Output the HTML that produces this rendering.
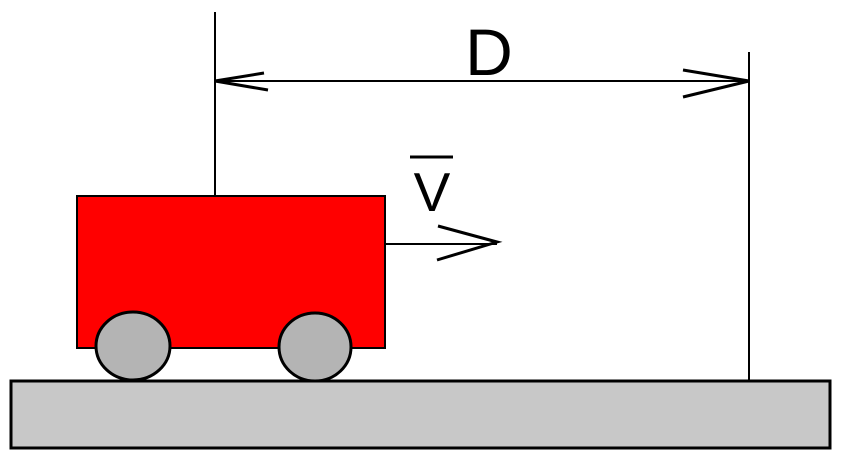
<!DOCTYPE html>
<html><head><meta charset="utf-8"><style>
html,body{margin:0;padding:0;background:#fff;width:842px;height:456px;overflow:hidden}
svg{display:block}
text{font-family:"Liberation Sans",Arial,sans-serif}
</style></head><body>
<svg width="842" height="456" viewBox="0 0 842 456" xmlns="http://www.w3.org/2000/svg">
<rect x="11" y="381" width="819" height="67" fill="#c8c8c8" stroke="#000" stroke-width="3"/>
<line x1="749" y1="52" x2="749" y2="381" stroke="#000" stroke-width="2"/>
<line x1="215" y1="12" x2="215" y2="196" stroke="#000" stroke-width="2"/>
<line x1="215" y1="81" x2="749" y2="81" stroke="#000" stroke-width="2"/>
<polyline points="264,73 215,81 268,90" fill="none" stroke="#000" stroke-width="3"/>
<polyline points="683,70 749,81 683,97" fill="none" stroke="#000" stroke-width="3"/>
<text x="489" y="75" font-size="66" text-anchor="middle">D</text>
<rect x="77" y="196" width="308" height="152" fill="#ff0000" stroke="#000" stroke-width="2"/>
<line x1="385" y1="244" x2="497" y2="244" stroke="#000" stroke-width="2"/>
<polyline points="438,226 497,242 437,260" fill="none" stroke="#000" stroke-width="3"/>
<text x="432" y="211" font-size="55" text-anchor="middle">V</text>
<line x1="410" y1="157" x2="453" y2="157" stroke="#000" stroke-width="3"/>
<ellipse cx="133" cy="346" rx="37" ry="34" fill="#b4b4b4" stroke="#000" stroke-width="3"/>
<ellipse cx="315" cy="347" rx="36" ry="34" fill="#b4b4b4" stroke="#000" stroke-width="3"/>
</svg>
</body></html>
